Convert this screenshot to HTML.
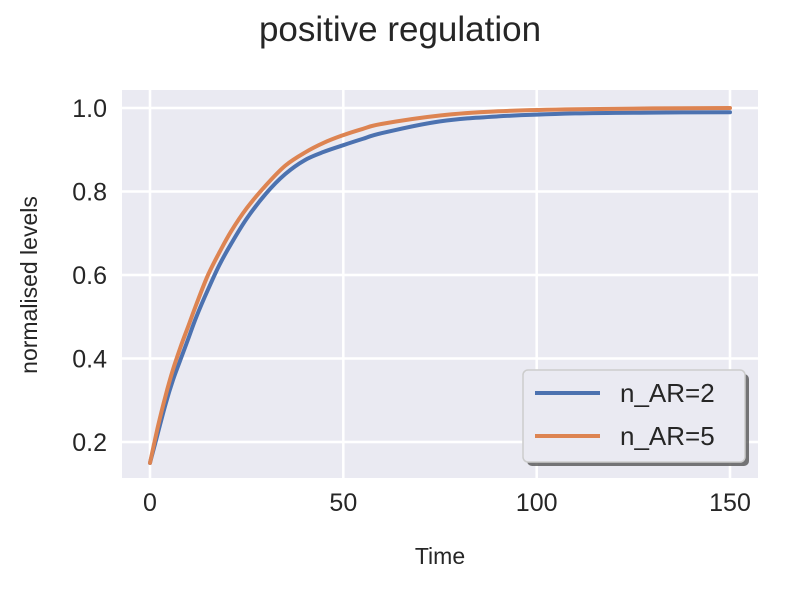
<!DOCTYPE html>
<html><head><meta charset="utf-8"><style>
body{margin:0;background:#fff;font-family:"Liberation Sans","DejaVu Sans",sans-serif}
</style></head><body>
<svg id="chart" width="800" height="600" xmlns="http://www.w3.org/2000/svg">
<text x="400" y="41" font-size="35" text-anchor="middle" fill="#262626">positive regulation</text>
<rect x="122" y="90" width="636" height="388" fill="#eaeaf2"/>
<g id="grid"></g><g id="ticks"></g><g id="lines"></g>
<text x="440" y="564" font-size="23" text-anchor="middle" fill="#262626">Time</text>
<text transform="translate(37,285) rotate(-90)" font-size="23" text-anchor="middle" fill="#262626">normalised levels</text>
<g>
<rect x="527" y="374" width="222" height="92" rx="5" fill="#555" opacity="0.8"/>
<rect x="523" y="370" width="222" height="92" rx="5" fill="#eaeaf2" stroke="#cccccc" stroke-width="1.5"/>
<line x1="535" y1="393" x2="600" y2="393" stroke="#4c72b0" stroke-width="4"/>
<text x="620" y="402" font-size="26" fill="#262626">n_AR=2</text>
<line x1="535" y1="436" x2="600" y2="436" stroke="#dd8452" stroke-width="4"/>
<text x="620" y="445" font-size="26" fill="#262626">n_AR=5</text>
</g>
</svg>
<script>
const times=[0,2,4,6,8,10,12,15,18,21,25,30,35,40,45,50,55,60,75,90,110,130,150];
const seriesN2=[0.15,0.22,0.29,0.35,0.40,0.45,0.50,0.565,0.625,0.675,0.735,0.795,0.842,0.875,0.895,0.911,0.926,0.94,0.968,0.98,0.987,0.989,0.99];
const seriesN5=[0.15,0.235,0.31,0.375,0.43,0.48,0.53,0.60,0.655,0.705,0.76,0.815,0.862,0.893,0.917,0.935,0.95,0.962,0.982,0.992,0.997,0.999,1.0];
const xTicks=[0,50,100,150];
const yTicks=[0.2,0.4,0.6,0.8,1.0];
const X=v=>150+v*(580/150);
const Y=v=>108+(1-v)*417.5;
const NS="http://www.w3.org/2000/svg";
function mk(t,a,p){const e=document.createElementNS(NS,t);for(const k in a)e.setAttribute(k,a[k]);document.getElementById(p).appendChild(e);return e;}
xTicks.forEach(v=>{
 const l=mk('line',{x1:X(v),x2:X(v),y1:90,y2:478,stroke:'#fff','stroke-width':2.5},'grid');
 
 
 const t=mk('text',{x:X(v),y:511,'font-size':25,'text-anchor':'middle',fill:'#262626'},'ticks');
 t.textContent=v;
 
 
});
yTicks.forEach(v=>{
 const l=mk('line',{x1:122,x2:758,y1:Y(v),y2:Y(v),stroke:'#fff','stroke-width':2.5},'grid');
 
 
 const t=mk('text',{x:107,y:Y(v)+9,'font-size':25,'text-anchor':'end',fill:'#262626'},'ticks');
 t.textContent=v.toFixed(1);
 
 
});
function path(s){
 const P=times.map((t,i)=>[X(t),Y(s[i])]);
 let d='M'+P[0][0].toFixed(1)+','+P[0][1].toFixed(1);
 for(let i=0;i<P.length-1;i++){
  const p0=P[Math.max(0,i-1)],p1=P[i],p2=P[i+1],p3=P[Math.min(P.length-1,i+2)];
  const c1=[p1[0]+(p2[0]-p0[0])/6,p1[1]+(p2[1]-p0[1])/6];
  const c2=[p2[0]-(p3[0]-p1[0])/6,p2[1]-(p3[1]-p1[1])/6];
  d+='C'+c1[0].toFixed(1)+','+c1[1].toFixed(1)+' '+c2[0].toFixed(1)+','+c2[1].toFixed(1)+' '+p2[0].toFixed(1)+','+p2[1].toFixed(1);
 }
 return d;
}
const p1=mk('path',{d:path(seriesN2),fill:'none',stroke:'#4c72b0','stroke-width':4,'stroke-linejoin':'round','stroke-linecap':'round'},'lines');


const p2=mk('path',{d:path(seriesN5),fill:'none',stroke:'#dd8452','stroke-width':4,'stroke-linejoin':'round','stroke-linecap':'round'},'lines');


</script>
</body></html>
